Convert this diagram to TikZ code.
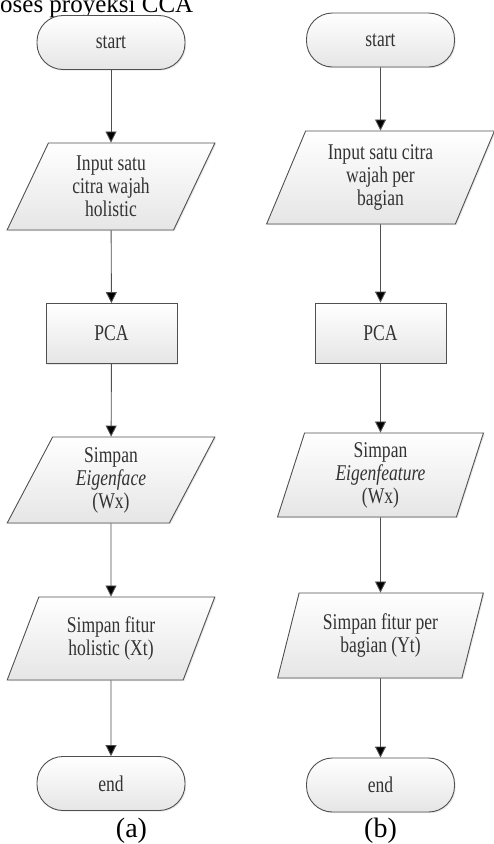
\documentclass[tikz,border=0pt]{standalone}
\usepackage{fontspec}
\setmainfont{Liberation Serif}
\newfontfamily\flowfont[FakeStretch=0.78]{Liberation Serif}
\usetikzlibrary{shapes.geometric,arrows.meta,shadows}

\definecolor{linegray}{HTML}{505050}
\definecolor{textgray}{HTML}{333333}

\tikzset{
  flowbase/.style={draw=linegray, line width=0.9pt, top color=white, bottom color=black!10,
    text=textgray, font=\flowfont\fontsize{22.5}{23}\selectfont, align=center, inner sep=2pt,
    drop shadow={shadow xshift=1.2pt, shadow yshift=-1.2pt, opacity=0.18}},
  terminal/.style={flowbase, rectangle, rounded corners=26pt, minimum width=148pt, minimum height=54pt},
  process/.style={flowbase, rectangle, minimum width=131pt, minimum height=60pt},
  iobox/.style={flowbase, trapezium, trapezium stretches=true},
  flowline/.style={draw=linegray, line width=0.9pt, -{Stealth[length=11pt,width=11pt,inset=0pt]}}
}

\begin{document}
\begin{tikzpicture}[x=1pt, y=1pt]
  \useasboundingbox (0,0) rectangle (494,-844);
  \node[anchor=base west, inner sep=0, font=\fontsize{25}{30}\selectfont] (title) at (0,-12.5) {oses proyeksi CCA};

  % kolom (a)
  \node[terminal] (s1) at (111,-42.5) {start};
  \node[iobox, trapezium left angle=67.5, trapezium right angle=112.5, minimum width=208pt, minimum height=87pt] (i1) at (111,-186.5) {Input satu\\citra wajah\\holistic};
  \node[process] (p1) at (111.5,-333.5) {PCA};
  \node[iobox, trapezium left angle=67.5, trapezium right angle=112.5, minimum width=208pt, minimum height=86pt] (e1) at (111,-480) {Simpan\\\textit{Eigenface}\\(Wx)};
  \node[iobox, trapezium left angle=67, trapezium right angle=113, minimum width=208pt, minimum height=83pt] (f1) at (111,-638.5) {Simpan fitur\\holistic (Xt)};
  \node[terminal] (n1) at (111,-783.5) {end};
  \node[anchor=base, font=\fontsize{28}{32}\selectfont] (capa) at (131.5,-837.5) {(a)};

  % kolom (b)
  \node[terminal] (s2) at (380.5,-40) {start};
  \node[iobox, trapezium left angle=67.8, trapezium right angle=112.2, minimum width=228pt, minimum height=93pt] (i2) at (380.5,-177.5) {Input satu citra\\wajah per\\bagian};
  \node[process] (p2) at (380.5,-333) {PCA};
  \node[iobox, trapezium left angle=76.5, trapezium right angle=103.5, minimum width=206pt, minimum height=84pt] (e2) at (380.5,-475) {Simpan\\\textit{Eigenfeature}\\(Wx)};
  \node[iobox, trapezium left angle=71.8, trapezium right angle=108.2, minimum width=206pt, minimum height=85pt] (f2) at (380.5,-635.5) {Simpan fitur per\\bagian (Yt)};
  \node[terminal] (n2) at (380.5,-785) {end};
  \node[anchor=base, font=\fontsize{28}{32}\selectfont] (capb) at (380.5,-837.5) {(b)};

  \path[flowline]
  (s1) edge (i1)
  (i1) edge (p1)
  (p1) edge (e1)
  (e1) edge (f1)
  (f1) edge (n1)
  (s2) edge (i2)
  (i2) edge (p2)
  (p2) edge (e2)
  (e2) edge (f2)
  (f2) edge (n2);
\end{tikzpicture}
\end{document}
